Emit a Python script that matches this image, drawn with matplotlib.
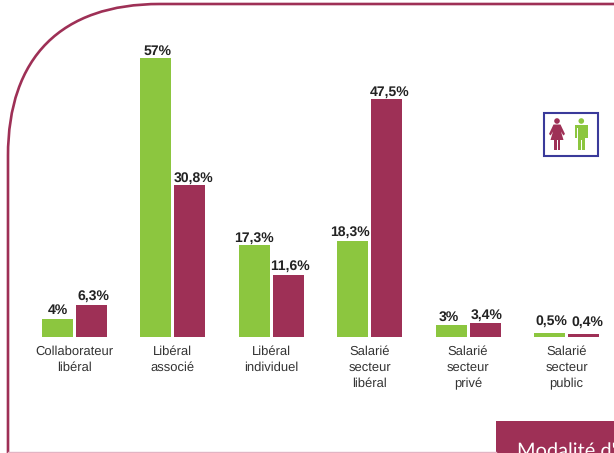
import matplotlib
matplotlib.use("Agg")
import matplotlib.pyplot as plt
from matplotlib.patches import Rectangle, Circle, Polygon, PathPatch
from matplotlib.path import Path

plt.rcParams['font.family'] = ['Liberation Sans', 'DejaVu Sans']
plt.rcParams['text.hinting'] = 'no_hinting'
plt.rcParams['text.hinting_factor'] = 1

categories = ["Collaborateur\nlibéral", "Libéral\nassocié", "Libéral\nindividuel",
              "Salarié\nsecteur\nlibéral", "Salarié\nsecteur\nprivé", "Salarié\nsecteur\npublic"]
# hauteurs (les barres ne suivent pas tout a fait les etiquettes)
femmes = [3.7, 57, 18.8, 19.6, 2.5, 0.8]
hommes = [6.5, 31.1, 12.7, 48.6, 2.9, 0.6]
labels_femmes = ["4%", "57%", "17,3%", "18,3%", "3%", "0,5%"]
labels_hommes = ["6,3%", "30,8%", "11,6%", "47,5%", "3,4%", "0,4%"]
# petits decalages des etiquettes, en points
dx_femmes = [0, 1, 0, -2, -1.5, 1.5]
dy_femmes = [1.5, 0, 0, 1.5, 1, 3.5]
dx_hommes = [1.5, 2.5, 1, 2, 1, 3]
dy_hommes = [1.5, 0, 1.5, 0.5, 1, 3.5]

VERT = "#8cc63f"
BORDEAUX = "#9e3056"
W, H = 614, 453

fig = plt.figure(figsize=(W / 100, H / 100), dpi=100)

# fond : cadre, bandeau et legende, en pixels
bg = fig.add_axes([0, 0, 1, 1])
bg.set_xlim(0, W)
bg.set_ylim(H, 0)
bg.axis("off")

r = 152
k = 0.65 * r
cadre = Path([(8, H + 5), (8, 4 + r), (8, 4 + r - k), (8 + r - k, 4), (8 + r, 4), (W + 5, 4)],
             [Path.MOVETO, Path.LINETO, Path.CURVE4, Path.CURVE4, Path.CURVE4, Path.LINETO])
bg.add_patch(PathPatch(cadre, fc="none", ec=BORDEAUX, lw=1.9))
bg.plot([8, 496], [452.3, 452.3], color="#e3b4c4", lw=1)
bg.add_patch(Rectangle((496, 421), 118, 32, fc=BORDEAUX, ec="none"))
bg.text(517, 457, "Modalité d'", color="white", fontsize=14.5, ha="left", va="baseline",
        family=["Lato", "DejaVu Sans"])

# legende
bg.add_patch(Rectangle((543.5, 112.5), 54, 43.5, fc="white", ec="#3a3a9a", lw=1.5))
# femme
bg.add_patch(Circle((557, 121), 2.8, fc=BORDEAUX, ec="none"))
bg.add_patch(Polygon([(553.5, 124.5), (560.5, 124.5), (565, 134), (563.3, 135.5), (561, 131.5), (563.5, 140),
                      (550.5, 140), (553, 131.5), (550.7, 135.5), (549, 134)], fc=BORDEAUX, ec="none"))
bg.add_patch(Rectangle((554.3, 139), 2.4, 10.5, fc=BORDEAUX, ec="none"))
bg.add_patch(Rectangle((557.6, 139), 2.4, 10.5, fc=BORDEAUX, ec="none"))
# homme
bg.add_patch(Circle((581.3, 121), 2.8, fc=VERT, ec="none"))
bg.add_patch(Rectangle((575, 125), 12.8, 2.5, fc=VERT, ec="none"))
bg.add_patch(Rectangle((575, 125), 2.4, 12.5, fc=VERT, ec="none"))
bg.add_patch(Rectangle((585.4, 125), 2.4, 12.5, fc=VERT, ec="none"))
bg.add_patch(Rectangle((578, 125), 6.6, 15, fc=VERT, ec="none"))
bg.add_patch(Rectangle((578, 139), 3.1, 10.5, fc=VERT, ec="none"))
bg.add_patch(Rectangle((581.5, 139), 3.1, 10.5, fc=VERT, ec="none"))

# barres
ax = fig.add_axes([0, (H - 337) / H, 1, 279 / H])
ax.patch.set_alpha(0)
pas = 98.4
ax.set_xlim(-74.5 / pas, (W - 74.5) / pas)
ax.set_ylim(0, 57)
largeur = 31 / pas
decal = 17 / pas
for i in range(len(categories)):
    ax.bar(i - decal, femmes[i], largeur, color=VERT)
    ax.bar(i + decal, hommes[i], largeur, color=BORDEAUX)
    ax.annotate(labels_femmes[i], (i - decal, femmes[i]), xytext=(dx_femmes[i], dy_femmes[i]),
                textcoords="offset points", ha="center", va="bottom", fontsize=10, fontweight="bold",
                color="#222222", annotation_clip=False)
    ax.annotate(labels_hommes[i], (i + decal, hommes[i]), xytext=(dx_hommes[i], dy_hommes[i]),
                textcoords="offset points", ha="center", va="bottom", fontsize=10, fontweight="bold",
                color="#222222", annotation_clip=False)
ax.set_xticks(range(len(categories)))
ax.set_xticklabels(categories, fontsize=9, color="#333333", linespacing=1.42)
ax.tick_params(axis="x", length=0, pad=6)
ax.set_yticks([])
for s in ax.spines.values():
    s.set_visible(False)

fig.savefig("out.png", dpi=100)
